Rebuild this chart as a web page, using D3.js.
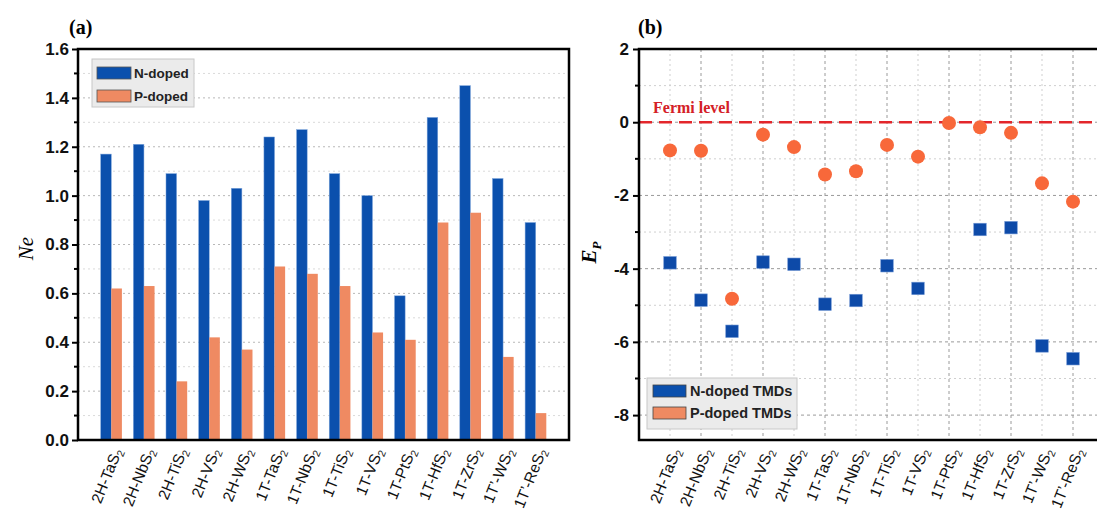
<!DOCTYPE html>
<html><head><meta charset="utf-8">
<script src="https://cdn.jsdelivr.net/npm/d3@7"></script>
<style>body{margin:0;background:#fff}svg{display:block}</style>
</head><body>
<svg id="c" width="1097" height="510"></svg>
<script>
const categories = ["2H-TaS","2H-NbS","2H-TiS","2H-VS","2H-WS","1T-TaS","1T-NbS","1T-TiS","1T-VS","1T-PtS","1T-HfS","1T-ZrS","1T\u2019-WS","1T\u2019-ReS"];
const neN = [1.17,1.21,1.09,0.98,1.03,1.24,1.27,1.09,1.00,0.59,1.32,1.45,1.07,0.89];
const neP = [0.62,0.63,0.24,0.42,0.37,0.71,0.68,0.63,0.44,0.41,0.89,0.93,0.34,0.11];
const epN = [-3.84,-4.86,-5.71,-3.82,-3.88,-4.97,-4.87,-3.92,-4.54,null,-2.93,-2.88,-6.11,-6.46];
const epP = [-0.77,-0.78,-4.82,-0.34,-0.68,-1.43,-1.34,-0.62,-0.94,-0.02,-0.14,-0.29,-1.67,-2.17];
const neTicks = [0,0.2,0.4,0.6,0.8,1.0,1.2,1.4,1.6];
const epTicks = [-8,-6,-4,-2,0,2];

const BLUE="#0b50ad", ORANGE_BAR="#ef8a62", ORANGE_PT="#f8683a", SQ="#0d4aa8";
const svg = d3.select("#c");
const font = "Arial, 'Liberation Sans', sans-serif";

function xLabels(g, xs, y0){
  categories.forEach((c,i)=>{
    const x = xs(i)+6;
    const t = g.append("text").attr("transform",`translate(${x},${y0}) rotate(-68)`)
      .attr("text-anchor","end").attr("dy","0.35em")
      .style("font-family",font).style("font-size","15.5px").attr("fill","#111");
    t.append("tspan").text(c);
    t.append("tspan").text("2").style("font-size","10.5px").attr("dy","3");
  });
}

// ---------- Panel (a)
{
  const L=78,R=569,T=49,B=440;
  const x = d3.scaleBand().domain(d3.range(categories.length)).range([L,R]).paddingInner(0).paddingOuter(0.52);
  const y = d3.scaleLinear().domain([0,1.6]).range([B,T]);
  const g = svg.append("g");
  const bw = 10.6;
  d3.range(1,16).forEach(k=>{
    const v=k/10;
    g.append("line").attr("x1",L).attr("x2",R).attr("y1",y(v)).attr("y2",y(v))
      .attr("stroke", k%2===0?"#b8b8b8":"#dadada").attr("stroke-width",1).attr("stroke-dasharray","2,3");
  });
  g.selectAll(".bn").data(neN).join("rect").attr("x",(d,i)=>x(i)+x.bandwidth()/2-bw).attr("width",bw)
    .attr("y",d=>y(d)).attr("height",d=>B-y(d)).attr("fill",BLUE).attr("stroke","#7fa6dc").attr("stroke-width",0.5);
  g.selectAll(".bp").data(neP).join("rect").attr("x",(d,i)=>x(i)+x.bandwidth()/2).attr("width",bw)
    .attr("y",d=>y(d)).attr("height",d=>B-y(d)).attr("fill",ORANGE_BAR);
  g.append("rect").attr("x",L).attr("y",T).attr("width",R-L).attr("height",B-T).attr("fill","none").attr("stroke","#000").attr("stroke-width",2.5);
  const ax = d3.axisLeft(y).tickValues(neTicks).tickFormat(d3.format(".1f")).tickSize(6).tickPadding(3);
  const ag = g.append("g").attr("transform",`translate(${L},0)`).call(ax);
  ag.select(".domain").remove();
  ag.selectAll("line").attr("stroke-width",2);
  ag.selectAll("text").style("font-family",font).style("font-size","17px").style("font-weight","bold").attr("fill","#111");
  d3.range(1,16,2).forEach(k=>{ g.append("line").attr("x1",L-4).attr("x2",L).attr("y1",y(k/10)).attr("y2",y(k/10)).attr("stroke","#000").attr("stroke-width",2); });
  xLabels(g, i=>x(i)+x.bandwidth()/2, 449);
  g.append("text").attr("transform",`translate(33,${(T+B)/2+4}) rotate(-90)`).attr("text-anchor","middle")
    .style("font-family","'Liberation Serif', 'Times New Roman', serif").style("font-style","italic").style("font-size","21px").text("Ne");
  g.append("text").attr("x",69).attr("y",34).style("font-family","'Liberation Serif', serif").style("font-weight","bold").style("font-size","20px").text("(a)");
  const lg = g.append("g");
  lg.append("rect").attr("x",92).attr("y",59).attr("width",102).attr("height",48).attr("fill","#ebebeb").attr("stroke","#c8c8c8");
  [["N-doped",BLUE],["P-doped",ORANGE_BAR]].forEach((d,i)=>{
    lg.append("rect").attr("x",97).attr("y",67+i*23).attr("width",34).attr("height",12).attr("fill",d[1]).attr("stroke","#555").attr("stroke-width",0.8);
    lg.append("text").attr("x",134).attr("y",73+i*23).attr("dy","0.35em").style("font-family",font).style("font-weight","bold").style("font-size","13.5px").attr("fill","#222").text(d[0]);
  });
}

// ---------- Panel (b)
{
  const L=639,R=1104,T=49,B=440;
  const x = d3.scaleLinear().domain([0,15]).range([L,R]);
  const y = d3.scaleLinear().domain([-8.68,2]).range([B,T]);
  const g = svg.append("g");
  for(let v=-8; v<=1; v++){
    g.append("line").attr("x1",L).attr("x2",R).attr("y1",y(v)).attr("y2",y(v))
      .attr("stroke", v%2===0?"#9a9a9a":"#cfcfcf").attr("stroke-width",1).attr("stroke-dasharray",v%2===0?"3,3":"2,3");
  }
  for(let k=1;k<=14;k++){
    g.append("line").attr("x1",x(k)).attr("x2",x(k)).attr("y1",T).attr("y2",B)
      .attr("stroke", k%2===0?"#9a9a9a":"#cfcfcf").attr("stroke-width",1).attr("stroke-dasharray",k%2===0?"3,3":"2,3");
  }
  g.append("line").attr("x1",L).attr("x2",R).attr("y1",y(0)).attr("y2",y(0)).attr("stroke","#e3262b").attr("stroke-width",2.5).attr("stroke-dasharray","13,7");
  g.append("text").attr("x",653).attr("y",113).style("font-family","'Liberation Serif', serif").style("font-weight","bold").style("font-size","16px").attr("fill","#d42027").text("Fermi level");
  const s=12.5;
  g.selectAll(".sq").data(epN.map((v,i)=>[i,v]).filter(d=>d[1]!==null)).join("rect")
    .attr("x",d=>x(d[0]+1)-s/2).attr("y",d=>y(d[1])-s/2).attr("width",s).attr("height",s).attr("fill",SQ).attr("stroke","#6e95d3").attr("stroke-width",0.6);
  g.selectAll(".ci").data(epP).join("circle").attr("cx",(d,i)=>x(i+1)).attr("cy",d=>y(d)).attr("r",7).attr("fill",ORANGE_PT);
  g.append("rect").attr("x",L).attr("y",T).attr("width",R-L).attr("height",B-T).attr("fill","none").attr("stroke","#000").attr("stroke-width",2.5);
  const ax = d3.axisLeft(y).tickValues(epTicks).tickFormat(d=>d).tickSize(6).tickPadding(4);
  const ag = g.append("g").attr("transform",`translate(${L},0)`).call(ax);
  ag.select(".domain").remove();
  ag.selectAll("line").attr("stroke-width",2);
  ag.selectAll("text").style("font-family",font).style("font-size","17px").style("font-weight","bold").attr("fill","#111");
  [-7,-5,-3,-1,1].forEach(v=>{ g.append("line").attr("x1",L-4).attr("x2",L).attr("y1",y(v)).attr("y2",y(v)).attr("stroke","#000").attr("stroke-width",2); });
  xLabels(g, i=>x(i+1), 449);
  const yl = g.append("text").attr("transform",`translate(596,${(T+B)/2+8}) rotate(-90)`).attr("text-anchor","middle")
    .style("font-family","'Liberation Serif', serif").style("font-style","italic").style("font-weight","bold").style("font-size","21px");
  yl.append("tspan").text("E");
  yl.append("tspan").text("P").style("font-size","13px").attr("dy","5");
  g.append("text").attr("x",638).attr("y",34).style("font-family","'Liberation Serif', serif").style("font-weight","bold").style("font-size","20px").text("(b)");
  const lg = g.append("g");
  lg.append("rect").attr("x",647).attr("y",378).attr("width",150).attr("height",51).attr("fill","#ebebeb").attr("stroke","#c8c8c8");
  [["N-doped TMDs",BLUE],["P-doped TMDs",ORANGE_BAR]].forEach((d,i)=>{
    lg.append("rect").attr("x",653).attr("y",385+i*22).attr("width",33).attr("height",12).attr("fill",d[1]).attr("stroke","#444").attr("stroke-width",0.8);
    lg.append("text").attr("x",690).attr("y",391+i*22).attr("dy","0.35em").style("font-family",font).style("font-weight","bold").style("font-size","14.5px").attr("fill","#222").text(d[0]);
  });
}
</script>
</body></html>
